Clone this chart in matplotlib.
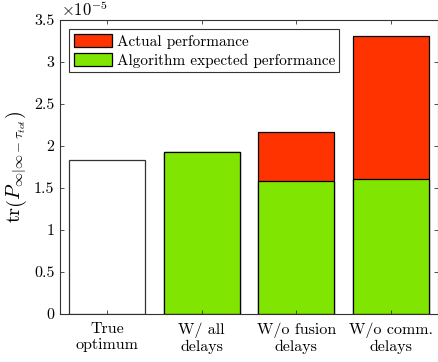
import matplotlib
matplotlib.use("Agg")
import matplotlib.pyplot as plt
import numpy as np

plt.rcParams["font.family"] = "serif"
plt.rcParams["font.serif"] = ["cmr10", "DejaVu Serif"]
plt.rcParams["mathtext.fontset"] = "cm"
plt.rcParams["axes.formatter.use_mathtext"] = True
plt.rcParams["axes.unicode_minus"] = False

categories = ["True\noptimum", "W/ all\ndelays", "W/o fusion\ndelays", "W/o comm.\ndelays"]
actual = [1.83e-5, 1.93e-5, 2.165e-5, 3.31e-5]
expected = [None, 1.93e-5, 1.58e-5, 1.61e-5]

red = "#FF3300"
green = "#80E500"

fig = plt.figure(figsize=(4.39, 3.62), dpi=100)
ax = fig.add_axes([60 / 439, 1 - 314 / 362, 378 / 439, 294 / 362])

x = np.arange(1, len(categories) + 1)
w = 0.8

# Optimum bar is drawn as a plain outline; the others show actual vs expected
ax.bar(x[0], actual[0], width=w, color="white", edgecolor="#333333", linewidth=0.9)
ax.bar(x[1:], actual[1:], width=w, color=red, edgecolor="black", linewidth=0.9,
       label="Actual performance")
ax.bar(x[1:], expected[1:], width=w, color=green, edgecolor="black", linewidth=0.9,
       label="Algorithm expected performance")

ax.set_xlim(0.5, 4.5)
ax.set_ylim(0, 3.5e-5)
ax.set_yticks(np.arange(0, 3.51e-5, 0.5e-5))
ax.set_yticklabels(["0", "0.5", "1", "1.5", "2", "2.5", "3", "3.5"])
ax.set_xticks(x)
ax.set_xticklabels(categories, fontsize=11.3, linespacing=1.2)
ax.tick_params(axis="both", direction="in", top=True, right=True, length=3,
               width=0.6, color="#333333", labelsize=11.5, pad=4)
ax.tick_params(axis="x", pad=6)
for s in ax.spines.values():
    s.set_color("#333333")
    s.set_linewidth(0.8)

fig.text(61 / 439, 1 - 9 / 362, r"$\times10^{-5}$", fontsize=12, va="center", ha="left")

ax.set_ylabel(r"$\mathrm{tr}\left(P_{\infty|\infty-\tau_{tot}}\right)$", fontsize=14.5, labelpad=4)

leg = ax.legend(loc="upper left", fontsize=11, frameon=True, fancybox=False,
                edgecolor="#333333", framealpha=1, borderaxespad=0.6,
                handlelength=2.5, handleheight=1.0, borderpad=0.3,
                labelspacing=0.25, handletextpad=0.3)
leg.get_frame().set_linewidth(0.8)

fig.savefig("out.png", dpi=100)
